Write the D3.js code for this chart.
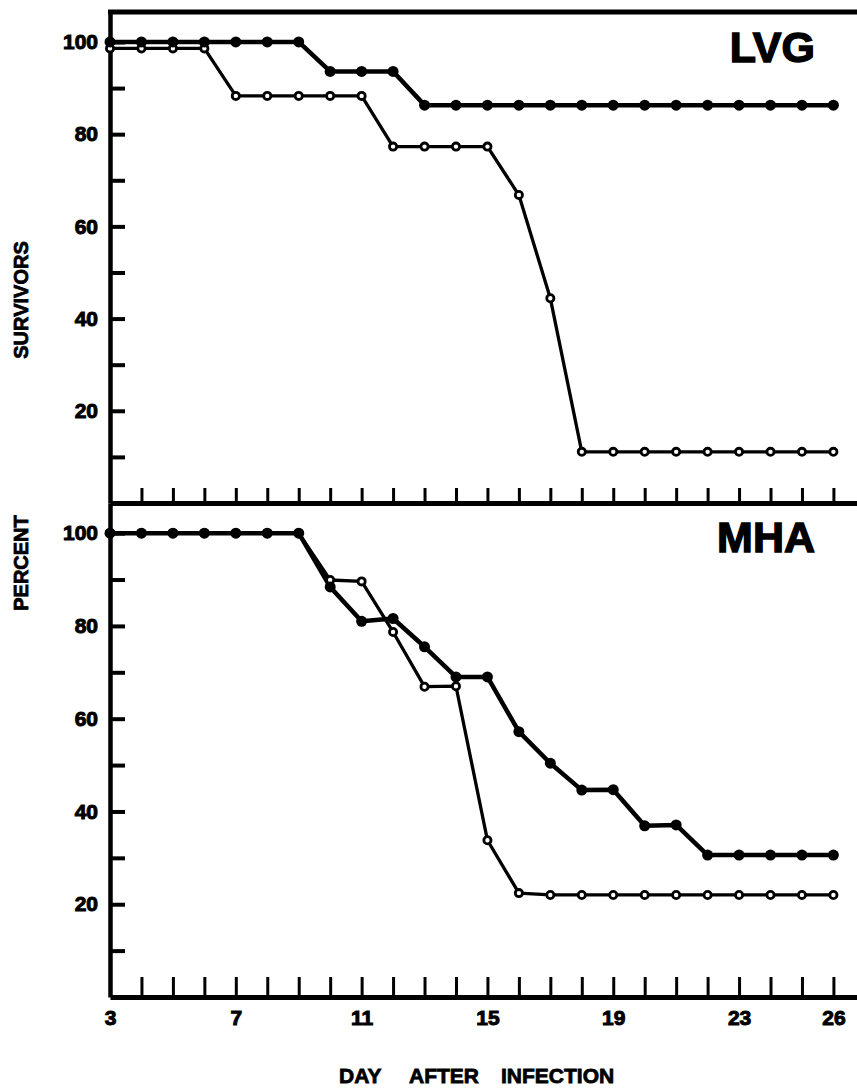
<!DOCTYPE html>
<html><head><meta charset="utf-8">
<script src="https://cdn.jsdelivr.net/npm/d3@7"></script>
<style>
body{margin:0;background:#fff}
svg{display:block}
text{font-family:"Liberation Sans",Arial,sans-serif;font-weight:bold;fill:#000}
</style>
</head><body>
<svg id="chart" width="857" height="1092"></svg>
<script>
// ---- data ----
const days = [3,4,5,6,7,8,9,10,11,12,13,14,15,16,17,18,19,20,21,22,23,24,25,26];
const xTickLabels = [3,7,11,15,19,23,26];
const yTickValues = [10,20,30,40,50,60,70,80,90,100];
const yTickLabels = [20,40,60,80,100];
const panelNames = ["LVG","MHA"];
const yTitleWords = ["SURVIVORS","PERCENT"];
const xTitleWords = ["DAY","AFTER","INFECTION"];

const lvgFilled = [100,100,100,100,100,100,100,93.6,93.6,93.6,86.3,86.3,86.3,86.3,86.3,86.3,86.3,86.3,86.3,86.3,86.3,86.3,86.3,86.3];
const lvgOpen   = [98.6,98.6,98.6,98.6,88.3,88.3,88.3,88.3,88.3,77.3,77.3,77.3,77.3,66.8,44.4,11.1,11.1,11.1,11.1,11.1,11.1,11.1,11.1,11.1];
const mhaFilled = [100,100,100,100,100,100,100,88.4,81,81.6,75.5,69,69,57.2,50.4,44.6,44.7,36.9,37.1,30.6,30.6,30.6,30.6,30.6];
const mhaOpen   = [100,100,100,100,100,100,100,89.9,89.6,78.7,66.9,67,33.8,22.4,22,22,22,22,22,22,22,22,22,22];

// ---- layout ----
const svg = d3.select("#chart");
const x = d3.scaleLinear().domain([3, 26.75]).range([110, 857]);

const panels = [
  {name: panelNames[0], top: 12, bottom: 503, filled: lvgFilled, open: lvgOpen, tickLen: 15, labelY: 62, showX: false},
  {name: panelNames[1], top: 503, bottom: 997, filled: mhaFilled, open: mhaOpen, tickLen: 20, labelY: 552, showX: true}
];

// top border
svg.append("line").attr("x1", 108).attr("x2", 857).attr("y1", 12).attr("y2", 12)
  .attr("stroke", "#000").attr("stroke-width", 5);

const boldText = sel => sel.style("font-family", "'Liberation Sans', Arial, sans-serif")
  .style("font-weight", "bold").attr("stroke", "#000");

panels.forEach(p => {
  const y = d3.scaleLinear().domain([0, 106.5]).range([p.bottom, p.top]);
  const g = svg.append("g");

  // y axis
  const ya = g.append("g").attr("transform", `translate(110,0)`)
    .call(d3.axisLeft(y).tickValues(yTickValues).tickSizeInner(-15).tickSizeOuter(0).tickPadding(12)
      .tickFormat(d => yTickLabels.includes(d) ? d : ""));
  ya.select(".domain").attr("stroke-width", 4.5);
  ya.selectAll(".tick line").attr("stroke-width", 4);
  ya.selectAll(".tick text").style("font-size", "21px").call(boldText).attr("stroke-width", 1);

  // x axis (bottom of panel)
  const xa = g.append("g").attr("transform", `translate(0,${p.bottom})`)
    .call(d3.axisBottom(x).tickValues(days).tickSizeInner(-p.tickLen).tickSizeOuter(0).tickPadding(13)
      .tickFormat(d => (p.showX && xTickLabels.includes(d)) ? d : ""));
  xa.select(".domain").attr("stroke-width", 5);
  xa.selectAll(".tick line").attr("stroke-width", 3);
  xa.selectAll(".tick text").style("font-size", "21px").call(boldText).attr("stroke-width", 1);

  const line = d3.line().x((d, i) => x(days[i])).y(d => y(d));

  // open series (drawn first)
  g.append("path").datum(p.open).attr("d", line)
    .attr("fill", "none").attr("stroke", "#000").attr("stroke-width", 3.3).attr("stroke-linejoin", "round");
  // filled series
  g.append("path").datum(p.filled).attr("d", line)
    .attr("fill", "none").attr("stroke", "#000").attr("stroke-width", 4.5).attr("stroke-linejoin", "round");

  g.selectAll(".open").data(p.open).join("circle").attr("class", "open")
    .attr("cx", (d, i) => x(days[i])).attr("cy", d => y(d)).attr("r", 3.6)
    .attr("fill", "#fff").attr("stroke", "#000").attr("stroke-width", 2.8);
  g.selectAll(".filled").data(p.filled).join("circle").attr("class", "filled")
    .attr("cx", (d, i) => x(days[i])).attr("cy", d => y(d)).attr("r", 5.5)
    .attr("fill", "#000");

  // panel label
  g.append("text").attr("x", 815).attr("y", p.labelY).attr("text-anchor", "end")
    .style("font-size", "43px").attr("stroke", "#000").attr("stroke-width", 1.4).text(p.name);
});

// y-axis title
svg.append("text").attr("transform", "translate(21,300) rotate(-90)")
  .attr("text-anchor", "middle").attr("dominant-baseline", "central")
  .style("font-size", "20px").attr("stroke", "#000").attr("stroke-width", 0.8).text(yTitleWords[0]);
svg.append("text").attr("transform", "translate(21,563) rotate(-90)")
  .attr("text-anchor", "middle").attr("dominant-baseline", "central")
  .style("font-size", "20px").attr("stroke", "#000").attr("stroke-width", 0.8).text(yTitleWords[1]);

// x-axis title
const xt = svg.append("text").attr("y", 1083).style("font-size", "21px")
  .attr("stroke", "#000").attr("stroke-width", 0.8);
const xPos = [339, 409, 501];
xTitleWords.forEach((w, i) => xt.append("tspan").attr("x", xPos[i]).text(w));
</script>
</body></html>
